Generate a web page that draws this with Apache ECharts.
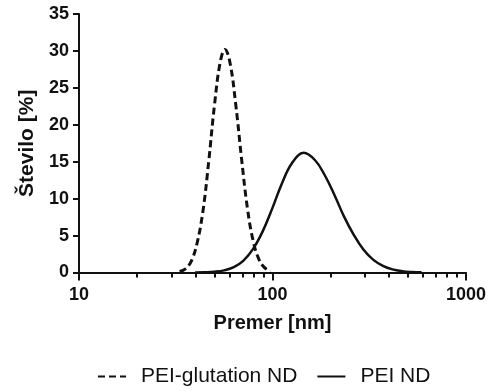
<!DOCTYPE html>
<html>
<head>
<meta charset="utf-8">
<script src="https://cdn.jsdelivr.net/npm/echarts@6/dist/echarts.min.js"></script>
<style>html,body{margin:0;padding:0;background:#fff;}#c{width:491px;height:392px;}</style>
</head>
<body>
<div id="c"></div>
<script>
// PEI-glutation ND (dashed)
var glutX = [33.1, 35.5, 38.0, 40.7, 43.7, 46.8, 50.1, 53.7, 56.8, 60.3, 64.6, 69.2, 74.1, 79.4, 85.1, 91.2, 97.7];
var glutY = [0.13, 0.49, 1.5, 3.9, 8.3, 15.0, 22.6, 28.5, 30.2, 28.4, 22.7, 15.4, 8.8, 4.3, 1.78, 0.63, 0.19];
// PEI ND (solid)
var peiX = [39.8, 44.7, 50.1, 56.2, 63.1, 70.8, 79.4, 89.1, 100, 112, 126, 145, 166, 186, 209, 234, 263, 295, 331, 372, 417, 468, 525, 589];
var peiY = [0.01, 0.03, 0.10, 0.29, 0.73, 1.62, 3.2, 5.6, 8.75, 12.1, 14.8, 16.2, 15.2, 13.2, 10.5, 7.6, 5.1, 3.1, 1.74, 0.90, 0.42, 0.18, 0.07, 0.02];
var seriesNames = ['PEI-glutation ND', 'PEI ND'];
var yTicks = {min: 0, max: 35, interval: 5};
var xRange = {min: 10, max: 1000};

function pairs(xs, ys) { return xs.map(function (x, i) { return [x, ys[i]]; }); }

var chart = echarts.init(document.getElementById('c'), null, {renderer: 'canvas'});
var font = 'Liberation Sans, Arial, sans-serif';
chart.setOption({
  backgroundColor: '#fff',
  animation: false,
  grid: {left: 79, right: 25, top: 14, bottom: 119.5, containLabel: false},
  xAxis: {
    type: 'log', logBase: 10, min: xRange.min, max: xRange.max,
    name: 'Premer [nm]', nameLocation: 'middle', nameGap: 41,
    nameTextStyle: {fontFamily: font, fontWeight: 'bold', fontSize: 20, color: '#111'},
    axisLine: {show: true, onZero: false, lineStyle: {color: '#111', width: 2}},
    axisTick: {show: true, inside: false, length: 8, lineStyle: {color: '#111', width: 2}},
    minorTick: {show: true, splitNumber: 9, length: 5, lineStyle: {color: '#111', width: 2}},
    axisLabel: {fontFamily: font, fontWeight: 'bold', fontSize: 18, color: '#111', margin: 14,
      formatter: function (v) { return String(v); }},
    splitLine: {show: false}, minorSplitLine: {show: false}
  },
  yAxis: {
    type: 'value', min: yTicks.min, max: yTicks.max, interval: yTicks.interval,
    name: 'Število [%]', nameLocation: 'middle', nameGap: 34,
    nameTextStyle: {fontFamily: font, fontWeight: 'bold', fontSize: 21, color: '#111'},
    axisLine: {show: true, lineStyle: {color: '#111', width: 2}},
    axisTick: {show: true, inside: false, length: 6, lineStyle: {color: '#111', width: 2}},
    axisLabel: {fontFamily: font, fontWeight: 'bold', fontSize: 18, color: '#111', margin: 10},
    splitLine: {show: false}
  },
  legend: {
    bottom: 0, left: 92, itemWidth: 28, itemHeight: 14, itemGap: 19,
    textStyle: {fontFamily: font, fontSize: 21, color: '#111', padding: [0, 0, 0, 10]},
    itemStyle: {color: 'rgba(0,0,0,0)', borderColor: 'rgba(0,0,0,0)', borderWidth: 0, opacity: 0},
    data: seriesNames
  },
  series: [
    {name: seriesNames[0], type: 'line', data: pairs(glutX, glutY), smooth: 0.4, showSymbol: false, symbol: 'none',
     lineStyle: {color: '#111', width: 3, type: [7, 4]}, itemStyle: {color: '#111'}},
    {name: seriesNames[1], type: 'line', data: pairs(peiX, peiY), smooth: 0.4, showSymbol: false, symbol: 'none',
     lineStyle: {color: '#111', width: 2.5, type: 'solid'}, itemStyle: {color: '#111'}}
  ]
});
</script>
</body>
</html>
